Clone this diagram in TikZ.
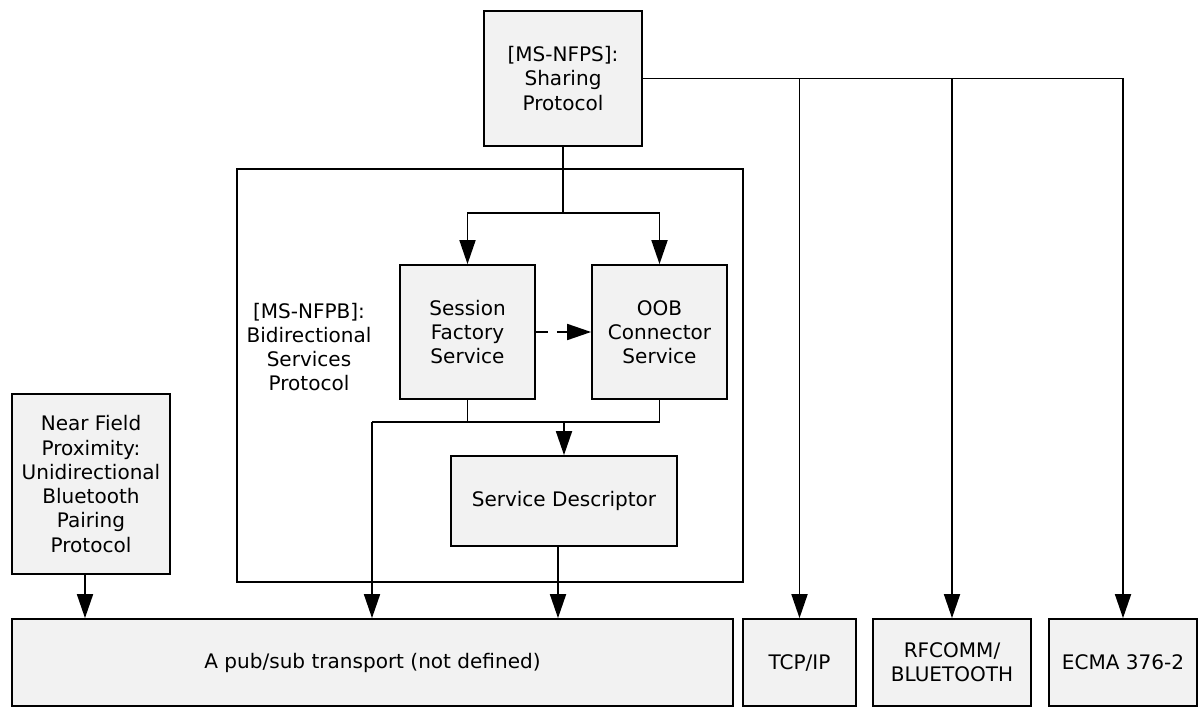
\documentclass[tikz,border=0pt]{standalone}
\usepackage{fontspec}
\setmainfont{DejaVu Sans}
\usepackage{tikz}
\usetikzlibrary{arrows.meta, positioning}

\definecolor{boxfill}{HTML}{F2F2F2}

\begin{document}
\begin{tikzpicture}[x=0.02cm, y=-0.02cm, line width=1pt,
    arr/.style={-{Triangle[length=0.48cm,width=0.32cm]}}]
        \useasboundingbox (0,0) rectangle (1199,709);
        % outer frame of the bidirectional protocol
        \node[draw, minimum width=10.12cm, minimum height=8.26cm] (nfpb) at (490,375.5) {};
        \node[align=center, font=\fontsize{11.4}{13.8}\selectfont] (nfpblabel) at (309,347)
          {[MS-NFPB]:\\Bidirectional\\Services\\Protocol};
        \begin{scope}[every node/.style={draw, fill=boxfill, align=center, inner sep=1pt,
            font=\fontsize{11.4}{13.8}\selectfont}]
          \node[minimum width=3.16cm, minimum height=2.7cm] (nfps) at (563,78.5) {[MS-NFPS]:\\Sharing\\Protocol};
          \node[minimum width=2.7cm, minimum height=2.68cm] (sfs) at (467.5,332) {Session\\Factory\\Service};
          \node[minimum width=2.7cm, minimum height=2.68cm] (oob) at (659.5,332) {OOB\\Connector\\Service};
          \node[minimum width=4.52cm, minimum height=1.8cm] (sd) at (564,501) {Service Descriptor};
          \node[minimum width=3.16cm, minimum height=3.6cm] (nfp) at (91,484)
            {Near Field\\Proximity:\\Unidirectional\\Bluetooth\\Pairing\\Protocol};
          \node[minimum width=14.42cm, minimum height=1.74cm] (pubsub) at (372.5,662.5) {A pub/sub transport (not defined)};
          \node[minimum width=2.26cm, minimum height=1.74cm] (tcp) at (799.5,662.5) {TCP/IP};
          \node[minimum width=3.16cm, minimum height=1.74cm] (rfcomm) at (952,662.5) {RFCOMM/\\BLUETOOTH};
          \node[minimum width=2.96cm, minimum height=1.74cm] (ecma) at (1123,662.5) {ECMA 376-2};
        \end{scope}
        \coordinate (split) at (563,213);
        \coordinate (busL) at (372,422);
        \draw (nfps) -- (split);
        \draw[arr] (split) -| (sfs.north);
        \draw[arr] (split) -| (oob.north);
        \draw[arr] (nfps.east) -| (tcp.north);
        \draw[arr] (nfps.east) -| (rfcomm.north);
        \draw[arr] (nfps.east) -| (ecma.north);
        \draw[arr, dash pattern=on 0.24cm off 0.18cm] (sfs) -- (oob);
        \draw (sfs.south) -- (sfs.south |- busL);
        \draw (busL) -| (oob.south);
        \begin{scope}[every edge/.style={draw, arr}]
          \path (sd.north |- busL) edge (sd.north);
          \path (busL) edge (busL |- pubsub.north);
          \path ([xshift=-0.12cm]sd.south) edge ([xshift=-0.12cm]sd.south |- pubsub.north);
          \path ([xshift=-0.12cm]nfp.south) edge ([xshift=-0.12cm]nfp.south |- pubsub.north);
        \end{scope}
      \end{tikzpicture}
\end{document}
